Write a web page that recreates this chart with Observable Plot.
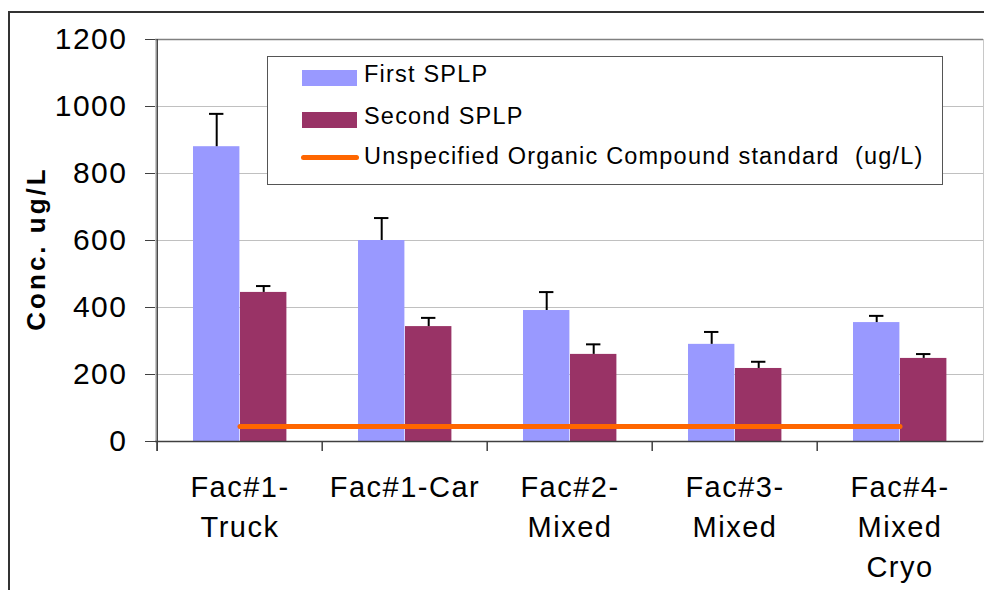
<!DOCTYPE html>
<html><head><meta charset="utf-8">
<script src="https://cdn.jsdelivr.net/npm/d3@7"></script>
<script src="https://cdn.jsdelivr.net/npm/@observablehq/plot@0.6"></script>
<style>
html,body{margin:0;padding:0;background:#fff;}
#wrap{position:relative;width:984px;height:590px;overflow:hidden;font-family:"Liberation Sans",Arial,sans-serif;}
#outer{position:absolute;left:8px;top:11px;width:1100px;height:800px;border-left:2px solid #333;border-top:2px solid #333;pointer-events:none;}
#chart{position:absolute;left:0;top:0;}
#legend{position:absolute;left:267px;top:56px;width:676px;height:129px;border:1px solid #555;background:#fff;box-sizing:border-box;}
.sw{position:absolute;}
.lt{position:absolute;left:96px;font-size:23.5px;line-height:23px;letter-spacing:1.2px;white-space:pre;color:#000;}
</style>
</head><body>
<div id="wrap"><div id="chart"></div><div id="outer"></div><div id="legend"></div></div>
<script>
const categories = ["Fac#1-\nTruck", "Fac#1-Car", "Fac#2-\nMixed", "Fac#3-\nMixed", "Fac#4-\nMixed\nCryo"];
const firstSPLP = [880, 600, 391, 290, 355];
const firstErr = [98, 67, 55, 37, 20];
const secondSPLP = [445, 343, 260, 218, 248];
const secondErr = [19, 26, 30, 20, 13];
const standard = [45, 45, 45, 45, 45];
const yTicks = [0, 200, 400, 600, 800, 1000, 1200];
const seriesNames = ["First SPLP", "Second SPLP", "Unspecified Organic Compound standard  (ug/L)"];
const seriesColors = ["#9999FF", "#993366", "#FF6600"];
const yLabel = "Conc. ug/L";

const W = 984, H = 590, mL = 155, mR = 1, mT = 39, mB = 149;
const bw = (W - mL - mR) / categories.length;
const pad = 36, barW = 47, capW = 15;

const first = categories.map((c, i) => ({cat: c, v: firstSPLP[i], e: firstErr[i]}));
const second = categories.map((c, i) => ({cat: c, v: secondSPLP[i], e: secondErr[i]}));
const std = categories.map((c, i) => ({cat: c, v: standard[i]}));

function errMarks(data, offset) {
  const cx = offset + barW / 2;
  return [
    Plot.ruleX(data, {x: "cat", y1: "v", y2: d => d.v + d.e, dx: cx - bw / 2, stroke: "#000", strokeWidth: 2}),
    Plot.tickY(data, {x: "cat", y: d => d.v + d.e, insetLeft: cx - capW / 2, insetRight: bw - cx - capW / 2, stroke: "#000", strokeWidth: 2})
  ];
}

const plot = Plot.plot({
  width: W, height: H,
  marginLeft: mL, marginRight: mR, marginTop: mT, marginBottom: mB,
  x: {type: "band", domain: categories, padding: 0, axis: null},
  y: {domain: [0, 1200]},
  style: {fontFamily: "'Liberation Sans', Arial, sans-serif", background: "transparent", color: "#000"},
  marks: [
    Plot.frame({stroke: "#c8c8c8"}),
    Plot.ruleY(yTicks.filter(t => t > 0 && t < 1200), {stroke: "#c0c0c0", strokeWidth: 1}),
    Plot.ruleY([1200], {stroke: "#808080", strokeWidth: 1.5}),
    Plot.barY(first, {x: "cat", y: "v", fill: seriesColors[0], insetLeft: pad, insetRight: bw - pad - barW}),
    Plot.barY(second, {x: "cat", y: "v", fill: seriesColors[1], insetLeft: pad + barW, insetRight: bw - pad - 2 * barW}),
    ...errMarks(first, pad),
    ...errMarks(second, pad + barW),
    Plot.lineY(std, {x: "cat", y: "v", stroke: seriesColors[2], strokeWidth: 5, strokeLinecap: "round"}),
    Plot.ruleY([0], {stroke: "#404040", strokeWidth: 1.5}),
    Plot.ruleX([categories[0]], {x: d => d, dx: -bw / 2, stroke: "#404040", strokeWidth: 1.5, insetBottom: -10}),
    Plot.ruleX(categories, {x: d => d, y1: () => 0, y2: () => 0, dx: -bw / 2, insetBottom: -10, stroke: "#404040", strokeWidth: 1.5}),
    Plot.axisY({ticks: yTicks, tickFormat: d => String(d), tickSize: 10, tickPadding: 18, fontSize: 30, stroke: "#404040", label: null}),
    Plot.text(categories, {x: d => d, frameAnchor: "bottom", lineAnchor: "top", dy: 27, fontSize: 29, lineHeight: 1.38, fill: "#000"}),
    Plot.text([yLabel], {frameAnchor: "left", textAnchor: "middle", dx: -119, dy: 8, rotate: -90, fontSize: 26, fontWeight: "bold", fill: "#000"})
  ]
});
document.getElementById("chart").appendChild(plot);

d3.select(plot).selectAll("text").each(function() {
  const t = this.textContent;
  if (t === yLabel) this.setAttribute("letter-spacing", "3px");
  else this.setAttribute("letter-spacing", "1.5px");
});

// legend
const lg = document.getElementById("legend");
const rows = [
  {top: 13, h: 16, left: 34, w: 55, textTop: 6},
  {top: 55, h: 16, left: 34, w: 55, textTop: 47.5},
  {top: 98, h: 5, left: 33, w: 58, textTop: 88}
];
seriesNames.forEach((name, i) => {
  const r = rows[i];
  const sw = document.createElement("div");
  sw.className = "sw";
  sw.style.cssText = `left:${r.left}px;top:${r.top}px;width:${r.w}px;height:${r.h}px;background:${seriesColors[i]};` + (i === 2 ? "border-radius:3px;" : "");
  lg.appendChild(sw);
  const tx = document.createElement("div");
  tx.className = "lt";
  tx.style.top = r.textTop + "px";
  tx.textContent = name;
  lg.appendChild(tx);
});
</script>
</body></html>
